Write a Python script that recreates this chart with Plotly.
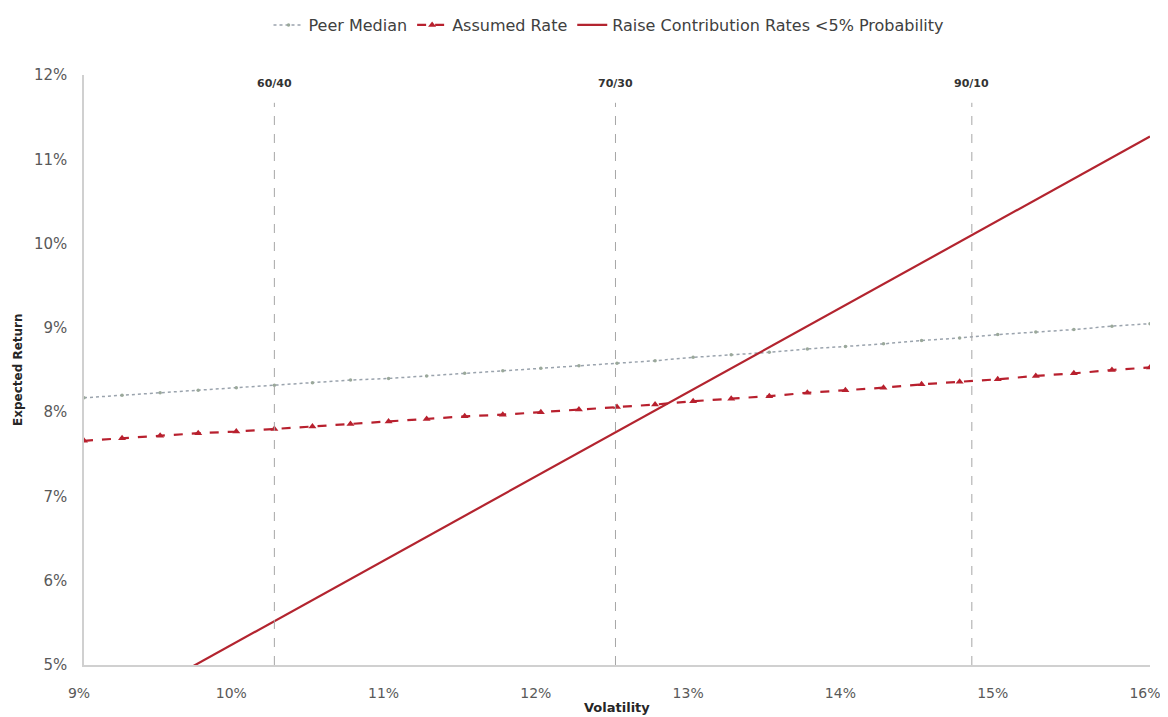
import plotly.graph_objects as go

volatility = [9.00, 9.25, 9.50, 9.75, 10.00, 10.25, 10.50, 10.75, 11.00, 11.25,
              11.50, 11.75, 12.00, 12.25, 12.50, 12.75, 13.00, 13.25, 13.50, 13.75,
              14.00, 14.25, 14.50, 14.75, 15.00, 15.25, 15.50, 15.75, 16.00]
peer_median = [8.17, 8.20, 8.23, 8.26, 8.29, 8.32, 8.35, 8.38, 8.40, 8.43,
               8.46, 8.49, 8.52, 8.55, 8.58, 8.61, 8.65, 8.68, 8.71, 8.75,
               8.78, 8.81, 8.85, 8.88, 8.92, 8.95, 8.98, 9.02, 9.05]
assumed_rate = [7.66, 7.69, 7.72, 7.75, 7.77, 7.80, 7.83, 7.86, 7.89, 7.92,
                7.95, 7.97, 8.00, 8.03, 8.06, 8.09, 8.13, 8.16, 8.19, 8.23,
                8.26, 8.29, 8.33, 8.36, 8.39, 8.43, 8.46, 8.50, 8.53]
raise_contrib = [4.27, 4.52, 4.77, 5.02, 5.27, 5.52, 5.77, 6.02, 6.27, 6.52,
                 6.77, 7.02, 7.27, 7.52, 7.77, 8.02, 8.27, 8.52, 8.77, 9.02,
                 9.27, 9.52, 9.77, 10.02, 10.27, 10.52, 10.77, 11.02, 11.27]

allocations = ["60/40", "70/30", "90/10"]
allocation_vol = [10.25, 12.49, 14.83]
allocation_line_top = 11.67
allocation_label_y = 11.9

x_ticks = [9, 10, 11, 12, 13, 14, 15, 16]
x_tick_text = ["9%", "10%", "11%", "12%", "13%", "14%", "15%", "16%"]
y_ticks = [5, 6, 7, 8, 9, 10, 11, 12]
y_tick_text = ["5%", "6%", "7%", "8%", "9%", "10%", "11%", "12%"]

FONT = "'DejaVu Sans', Verdana, sans-serif"
# the page has an 8px body margin, so the figure is drawn offset by (8, 8)
W, H = 1160, 709
L, R, T, B = 76, 18, 67, 52
PW, PH = W - L - R, H - T - B

fig = go.Figure()

fig.add_trace(go.Scatter(
    x=volatility, y=peer_median, name="Peer Median", mode="lines+markers",
    line=dict(color="#9aa3ad", width=1.5, dash="dot"),
    marker=dict(symbol="circle", size=3.5, color="#9aa89a"),
))
fig.add_trace(go.Scatter(
    x=volatility, y=assumed_rate, name="Assumed Rate", mode="lines+markers",
    line=dict(color="#b8202e", width=2.2, dash="dash"),
    marker=dict(symbol="triangle-up", size=7, color="#b8202e"),
))
fig.add_trace(go.Scatter(
    x=volatility, y=raise_contrib, name="Raise Contribution Rates <5% Probability",
    mode="lines", line=dict(color="#b3242f", width=2.2),
))

for name, v in zip(allocations, allocation_vol):
    fig.add_shape(type="line", x0=v, x1=v, y0=5, y1=allocation_line_top,
                  xref="x", yref="y", line=dict(color="#a6a6a6", width=1, dash="dash"))
    fig.add_annotation(x=v, y=allocation_label_y, xref="x", yref="y", text="<b>" + name + "</b>",
                       showarrow=False, font=dict(family=FONT, size=11, color="#333333"))

fig.add_annotation(text="<b>Volatility</b>", xref="paper", yref="paper",
                   x=(609 - L) / PW, y=-(699 - (H - B)) / PH,
                   xanchor="center", yanchor="middle", showarrow=False,
                   font=dict(family=FONT, size=13, color="#262626"))
fig.add_annotation(text="<b>Expected Return</b>", xref="paper", yref="paper",
                   x=-(L - 10) / PW, y=((H - B) - 362) / PH,
                   textangle=-90, showarrow=False, xanchor="center", yanchor="middle",
                   font=dict(family=FONT, size=12, color="#262626"))

fig.update_layout(
    width=W, height=H,
    margin=dict(l=L, r=R, t=T, b=B, autoexpand=False),
    paper_bgcolor="white", plot_bgcolor="white",
    font=dict(family=FONT, size=15, color="#595959"),
    showlegend=True,
    legend=dict(orientation="h", x=(601 - L) / PW, xanchor="center",
                y=((H - B) - 17) / PH, yanchor="middle",
                font=dict(family=FONT, size=16, color="#404040"),
                bgcolor="rgba(0,0,0,0)"),
    xaxis=dict(range=[9, 16], tickvals=x_ticks, ticktext=x_tick_text, showgrid=False,
               zeroline=False, showline=True, linecolor="#d0d0d0", linewidth=1.5,
               ticks="", ticklabelstandoff=14, ticklabelshift=-5, automargin=False,
               ticklabeloverflow="allow",
               tickfont=dict(family=FONT, size=14, color="#595959")),
    yaxis=dict(range=[5, 12], tickvals=y_ticks, ticktext=y_tick_text, showgrid=False,
               zeroline=False, showline=True, linecolor="#d0d0d0", linewidth=1.5,
               ticks="", ticklabelstandoff=12, automargin=False,
               tickfont=dict(family=FONT, size=15, color="#595959")),
)

fig.write_html("out.html", default_width="1160px", default_height="709px")
